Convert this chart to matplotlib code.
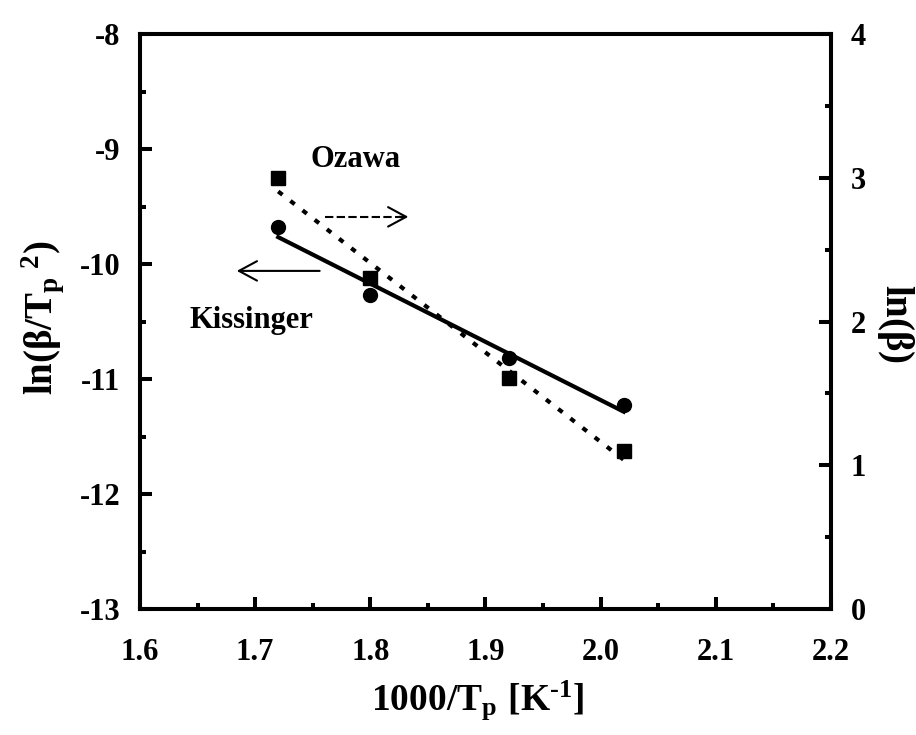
import matplotlib
matplotlib.use('Agg')
import matplotlib.pyplot as plt
from matplotlib.ticker import MultipleLocator
import numpy as np

plt.rcParams['font.family'] = 'Liberation Serif'
plt.rcParams['font.weight'] = 'bold'
plt.rcParams['mathtext.fontset'] = 'custom'
plt.rcParams['mathtext.rm'] = 'Liberation Serif:bold'
plt.rcParams['mathtext.it'] = 'Liberation Serif:bold'
plt.rcParams['mathtext.bf'] = 'Liberation Serif:bold'
plt.rcParams['mathtext.default'] = 'rm'
plt.rcParams['axes.unicode_minus'] = False

# 1000/Tp for heating rates 3, 5, 10, 20 K/min
inv_tp = [1.72, 1.80, 1.92, 2.02]
kissinger = [-9.68, -10.27, -10.82, -11.23]  # ln(beta/Tp^2)
ozawa = [3.00, 2.30, 1.61, 1.10]  # ln(beta)

W, H = 916, 735
fig = plt.figure(figsize=(W / 100, H / 100), dpi=100)
ax = fig.add_axes([140 / W, 1 - 609 / H, 691 / W, 575 / H])
ax2 = ax.twinx()

for a in (ax, ax2):
    for s in a.spines.values():
        s.set_linewidth(2.9)

ax.set_xlim(1.6, 2.2)
ax.set_ylim(-13, -8)
ax2.set_ylim(0, 4)
ax.xaxis.set_major_locator(MultipleLocator(0.1))
ax.xaxis.set_minor_locator(MultipleLocator(0.05))
ax.yaxis.set_major_locator(MultipleLocator(1))
ax.yaxis.set_minor_locator(MultipleLocator(0.5))
ax2.yaxis.set_major_locator(MultipleLocator(1))
ax2.yaxis.set_minor_locator(MultipleLocator(0.5))

ax.tick_params(which='both', direction='in', top=False, right=False, width=2.9, labelsize=22)
ax.tick_params(which='major', length=8.6)
ax.tick_params(which='minor', length=4.3)
ax.tick_params(axis='x', pad=21)
ax.tick_params(axis='y', pad=14)
ax2.tick_params(which='both', direction='in', width=2.9, labelsize=22, pad=14)
ax2.tick_params(which='major', length=8.6)
ax2.tick_params(which='minor', length=4.3)

# linear fits
xf = np.array([inv_tp[0], inv_tp[-1]])
k_fit = np.polyfit(inv_tp, kissinger, 1)
o_fit = np.polyfit(inv_tp, ozawa, 1)

ax.plot(xf, np.polyval(k_fit, xf), color='black', lw=3)
ax.plot(inv_tp, kissinger, 'o', color='black', ms=10)
ax2.plot(xf, np.polyval(o_fit, xf), color='black', lw=3, ls=(0, (1.3, 2.4)))
ax2.plot(inv_tp, ozawa, 's', color='black', ms=10)

# labels for the two methods with arrows pointing to their axes
ax.text(1.7875, -9.16, 'Ozawa', fontsize=22, ha='center', va='baseline')
ax.text(1.697, -10.56, 'Kissinger', fontsize=22, ha='center', va='baseline')

ax.plot([1.761, 1.828], [-9.59, -9.59], color='black', lw=1.5, ls=(0, (4, 1.6)))
ax.annotate('', xy=(1.833, -9.59), xytext=(1.825, -9.59),
            arrowprops=dict(arrowstyle='->,head_length=0.65,head_width=0.35',
                            mutation_scale=20, lw=1.5, color='black',
                            shrinkA=0, shrinkB=0))
ax.annotate('', xy=(1.684, -10.06), xytext=(1.756, -10.06),
            arrowprops=dict(arrowstyle='->,head_length=0.65,head_width=0.35',
                            mutation_scale=20, lw=1.5, color='black',
                            shrinkA=0, shrinkB=0))

fig.text(478 / W, 1 - 710 / H, r'$\mathrm{1000/T_p\ [K^{\text{-1}}]}$', fontsize=27,
         ha='center', va='baseline')
fig.text(52 / W, 1 - 318 / H, r'$\mathrm{ln(β/T_{p}{}^{\ 2})}$', fontsize=28,
         ha='center', va='baseline', rotation=90, rotation_mode='anchor')
fig.text(886 / W, 1 - 324 / H, r'$\mathrm{ln(β)}$', fontsize=28,
         ha='center', va='baseline', rotation=270, rotation_mode='anchor')

fig.savefig('out.png', dpi=100)
